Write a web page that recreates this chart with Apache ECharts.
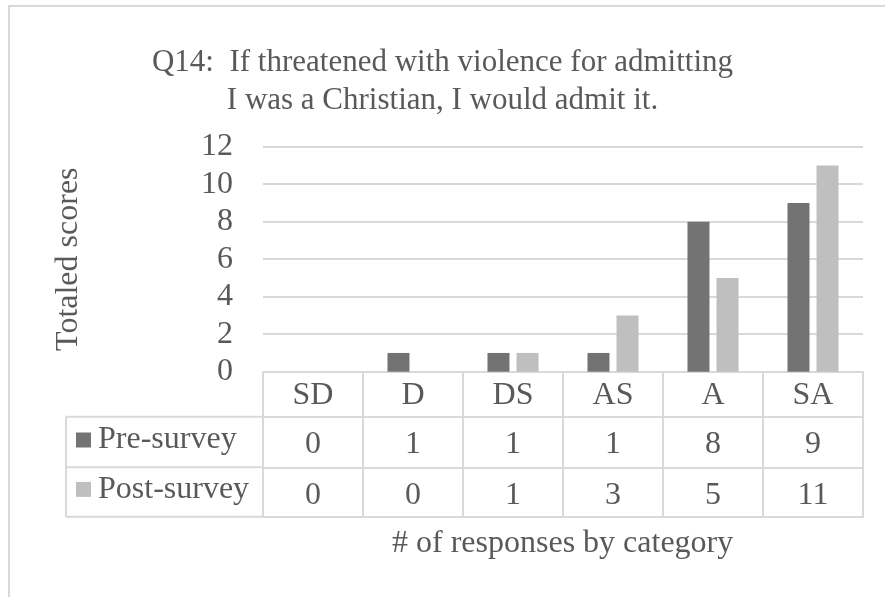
<!DOCTYPE html>
<html>
<head>
<meta charset="utf-8">
<script src="https://cdn.jsdelivr.net/npm/echarts@6/dist/echarts.min.js"></script>
<style>
  html, body { margin: 0; padding: 0; background: #fff; }
  #main { width: 885px; height: 597px; }
</style>
</head>
<body>
<div id="main"></div>
<script>
    // data
    var categories = ['SD', 'D', 'DS', 'AS', 'A', 'SA'];
    var preSurvey = [0, 1, 1, 1, 8, 9];
    var postSurvey = [0, 0, 1, 3, 5, 11];
    var seriesNames = ['Pre-survey', 'Post-survey'];
    var yTicks = [0, 2, 4, 6, 8, 10, 12];

    var FONT = 'Liberation Serif';
    var TXT = '#595959';
    var LINE = '#d9d9d9';

    // table geometry (row lines of the data table)
    var axisY = 371.7, row1 = 416.7, row2 = 467.3, row3 = 516.7;
    var tableLeft = 66, plotLeft = 263;

    var myChart = echarts.init(document.getElementById('main'));

    function tableAxis(data, offset, tickLen, margin, showLabel) {
        return {
            type: 'category',
            data: data,
            position: 'bottom',
            offset: offset,
            axisLine: { show: true, lineStyle: { color: LINE, width: 2 } },
            axisTick: { show: tickLen > 0, interval: 0, length: tickLen, lineStyle: { color: LINE, width: 2 } },
            axisLabel: {
                show: showLabel, interval: 0, margin: margin, verticalAlign: 'middle',
                color: TXT, fontFamily: FONT, fontSize: 32
            },
            splitLine: { show: false }
        };
    }

    option = {
        animation: false,
        title: {
            text: 'Q14:  If threatened with violence for admitting\nI was a Christian, I would admit it.',
            left: 'center',
            top: 39,
            padding: [5, 0, 5, 8],
            textStyle: { color: TXT, fontFamily: FONT, fontSize: 31, fontWeight: 'normal', lineHeight: 38 }
        },
        legend: [
            {
                data: [seriesNames[0]], orient: 'vertical', left: 76, top: 422, padding: 0,
                itemWidth: 15, itemHeight: 15, icon: 'rect',
                textStyle: { color: TXT, fontFamily: FONT, fontSize: 32, lineHeight: 36, padding: [0, 0, 0, 2] }
            },
            {
                data: [seriesNames[1]], orient: 'vertical', left: 76, top: 471.4, padding: 0,
                itemWidth: 15, itemHeight: 15, icon: 'rect',
                textStyle: { color: TXT, fontFamily: FONT, fontSize: 32, lineHeight: 36, padding: [0, 0, 0, 2] }
            }
        ],
        grid: { left: plotLeft, right: 22, top: 146.7, bottom: 597 - axisY },
        xAxis: [
            tableAxis(categories, 0, row1 - axisY, 24, true),
            tableAxis(preSurvey.map(String), row1 - axisY, row2 - row1, 28, true),
            tableAxis(postSurvey.map(String), row2 - axisY, row3 - row2, 28, true),
            tableAxis(categories, row3 - axisY, 0, 0, false)
        ],
        yAxis: {
            type: 'value',
            min: yTicks[0],
            max: yTicks[yTicks.length - 1],
            interval: 2,
            name: 'Totaled scores',
            nameLocation: 'middle',
            nameGap: 178,
            nameTextStyle: { color: TXT, fontFamily: FONT, fontSize: 32 },
            axisLine: { show: false },
            axisTick: { show: false },
            axisLabel: { margin: 30, color: TXT, fontFamily: FONT, fontSize: 32 },
            splitLine: { lineStyle: { color: LINE, width: 2 } }
        },
        graphic: [
            // outer chart frame
            { type: 'rect', shape: { x: 9, y: 6, width: 950, height: 700 }, style: { fill: null, stroke: LINE, lineWidth: 2 }, silent: true },
            // legend column of the data table
            { type: 'line', shape: { x1: tableLeft, y1: row1, x2: plotLeft, y2: row1 }, style: { stroke: LINE, lineWidth: 2 } },
            { type: 'line', shape: { x1: tableLeft, y1: row2, x2: plotLeft, y2: row2 }, style: { stroke: LINE, lineWidth: 2 } },
            { type: 'line', shape: { x1: tableLeft, y1: row3, x2: plotLeft, y2: row3 }, style: { stroke: LINE, lineWidth: 2 } },
            { type: 'line', shape: { x1: tableLeft, y1: row1, x2: tableLeft, y2: row3 }, style: { stroke: LINE, lineWidth: 2 } },
            // x axis title
            {
                type: 'text', left: 392, top: 528,
                style: { text: '# of responses by category', fill: TXT, font: '32px "Liberation Serif"' }
            }
        ],
        series: [
            {
                name: seriesNames[0], type: 'bar', xAxisIndex: 0,
                data: preSurvey, barWidth: 22, barGap: '32%',
                itemStyle: { color: '#737373' }
            },
            {
                name: seriesNames[1], type: 'bar', xAxisIndex: 0,
                data: postSurvey, barWidth: 22, barGap: '32%',
                itemStyle: { color: '#bfbfbf' }
            }
        ]
    };
    myChart.setOption(option);
</script>
</body>
</html>
